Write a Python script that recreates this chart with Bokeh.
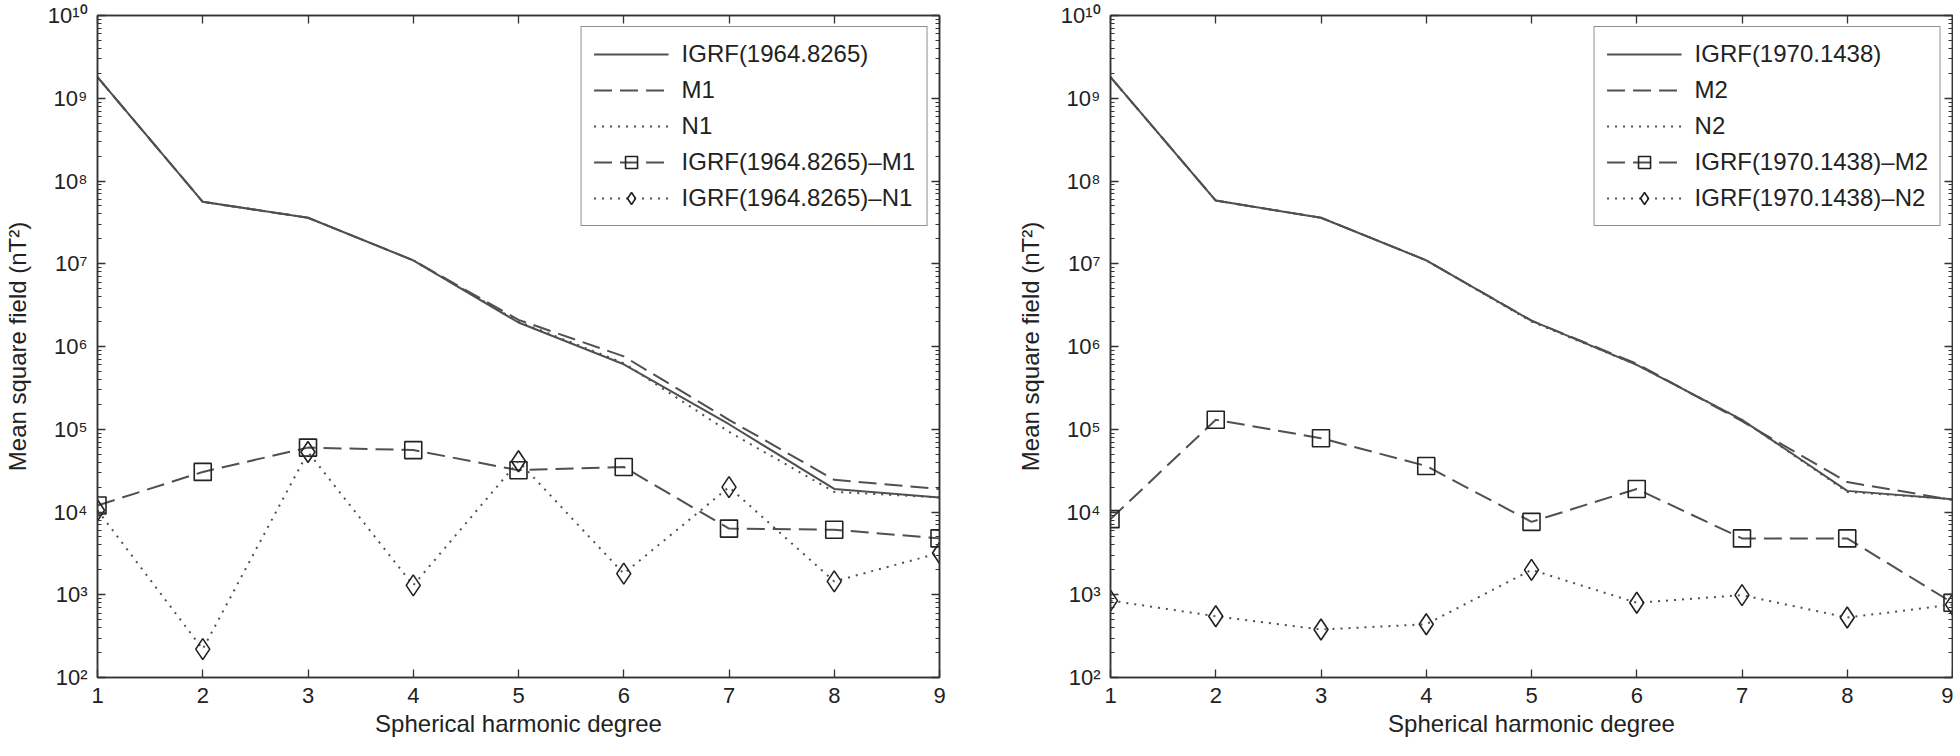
from bokeh.plotting import figure
from bokeh.layouts import row
from bokeh.models import Range1d, FixedTicker, LinearAxis, LogAxis, CustomJSTickFormatter
from bokeh.embed import file_html
from bokeh.resources import INLINE

# ---------------- data ----------------
degrees = [1, 2, 3, 4, 5, 6, 7, 8, 9]

igrf_1964 = [1.8e9, 5.6e7, 3.6e7, 1.1e7, 1.95e6, 6.1e5, 1.15e5, 1.9e4, 1.5e4]
m1 = [1.8e9, 5.6e7, 3.6e7, 1.1e7, 2.1e6, 7.6e5, 1.3e5, 2.45e4, 1.9e4]
n1 = [1.8e9, 5.6e7, 3.6e7, 1.1e7, 2.0e6, 6.3e5, 9.3e4, 1.75e4, 1.5e4]
igrf_m1 = [1.2e4, 3.05e4, 6.0e4, 5.6e4, 3.2e4, 3.5e4, 6.3e3, 6.1e3, 4.8e3]
igrf_n1 = [1.05e4, 220, 5.3e4, 1.3e3, 4.1e4, 1.8e3, 2.0e4, 1.45e3, 3.2e3]

igrf_1970 = [1.8e9, 5.8e7, 3.6e7, 1.1e7, 2.05e6, 6.0e5, 1.3e5, 1.8e4, 1.43e4]
m2 = [1.8e9, 5.8e7, 3.6e7, 1.1e7, 2.05e6, 6.2e5, 1.25e5, 2.3e4, 1.4e4]
n2 = [1.8e9, 5.8e7, 3.6e7, 1.1e7, 2.0e6, 6.0e5, 1.3e5, 1.75e4, 1.43e4]
igrf_m2 = [8.2e3, 1.3e5, 7.8e4, 3.6e4, 7.6e3, 1.9e4, 4.8e3, 4.8e3, 800]
igrf_n2 = [850, 550, 380, 440, 2.0e3, 800, 990, 530, 760]

labels_left = ["IGRF(1964.8265)", "M1", "N1", "IGRF(1964.8265)\u2013M1", "IGRF(1964.8265)\u2013N1"]
labels_right = ["IGRF(1970.1438)", "M2", "N2", "IGRF(1970.1438)\u2013M2", "IGRF(1970.1438)\u2013N2"]

ytick_values = [1e2, 1e3, 1e4, 1e5, 1e6, 1e7, 1e8, 1e9, 1e10]
ytick_labels = ["10\u00b2", "10\u00b3", "10\u2074", "10\u2075", "10\u2076",
                "10\u2077", "10\u2078", "10\u2079", "10\u00b9\u2070"]
yminor = [k * 10.0 ** n for n in range(2, 10) for k in range(2, 10)]

x_label = "Spherical harmonic degree"
y_label = "Mean square field (nT\u00b2)"

FONT = "Liberation Sans"
TXT = "#222222"
LINE = "#505050"
AX = "#333333"


def style_axis(ax, show_labels=True):
    ax.axis_line_color = AX
    ax.axis_line_width = 1.5
    ax.major_tick_line_color = AX
    ax.major_tick_line_width = 1.3
    ax.minor_tick_line_color = AX
    ax.minor_tick_line_width = 1.0
    ax.major_tick_in = 8
    ax.major_tick_out = 0
    ax.minor_tick_in = 4
    ax.minor_tick_out = 0
    if show_labels:
        ax.major_label_text_font = FONT
        ax.major_label_text_font_size = "22px"
        ax.major_label_text_color = TXT
        ax.axis_label_text_font = FONT
        ax.axis_label_text_font_size = "24px"
        ax.axis_label_text_font_style = "normal"
        ax.axis_label_text_color = TXT
    else:
        ax.major_label_text_font_size = "1px"
        ax.major_label_text_alpha = 0
        ax.major_label_standoff = 0


def make_panel(series, labels, border_right):
    igrf, mm, nn, dm, dn = series
    p = figure(
        x_axis_type="linear", y_axis_type="log",
        x_range=Range1d(1, 9), y_range=Range1d(1e2, 1e10),
        frame_width=842, frame_height=662,
        min_border_left=92, min_border_right=border_right,
        min_border_top=15, min_border_bottom=70,
        output_backend="svg", toolbar_location=None,
        background_fill_color="white", border_fill_color="white",
    )
    p.xgrid.grid_line_color = None
    p.ygrid.grid_line_color = None
    p.outline_line_color = AX
    p.outline_line_width = 1.5

    ylog_formatter = CustomJSTickFormatter(
        args=dict(vals=ytick_values, labels=ytick_labels),
        code="""
        const lg = Math.log10(tick);
        for (let i = 0; i < vals.length; i++) {
            if (Math.abs(Math.log10(vals[i]) - lg) < 1e-6) return labels[i];
        }
        return "";
        """,
    )

    xax = p.xaxis[0]
    xax.ticker = FixedTicker(ticks=degrees)
    xax.axis_label = x_label
    style_axis(xax)
    xax.major_label_standoff = 10
    xax.axis_label_standoff = 4

    yax = p.yaxis[0]
    yax.ticker = FixedTicker(ticks=ytick_values, minor_ticks=yminor)
    yax.formatter = ylog_formatter
    yax.axis_label = y_label
    style_axis(yax)
    yax.major_label_standoff = 10
    yax.axis_label_standoff = 14

    top = LinearAxis(ticker=FixedTicker(ticks=degrees))
    style_axis(top, show_labels=False)
    p.add_layout(top, "above")
    right = LogAxis(ticker=FixedTicker(ticks=ytick_values, minor_ticks=yminor))
    style_axis(right, show_labels=False)
    p.add_layout(right, "right")

    p.line(degrees, igrf, line_color=LINE, line_width=2, legend_label=labels[0])
    p.line(degrees, mm, line_color=LINE, line_width=2, line_dash="18 8", legend_label=labels[1])
    p.line(degrees, nn, line_color=LINE, line_width=2, line_dash="2 6", legend_label=labels[2])

    p.line(degrees, dm, line_color=LINE, line_width=2, line_dash="18 8", legend_label=labels[3])
    p.scatter(degrees, dm, marker="square", size=17, fill_color=None,
              line_color="#222222", line_width=1.6, legend_label=labels[3])
    p.line(degrees, dn, line_color=LINE, line_width=2, line_dash="2 6", legend_label=labels[4])
    p.scatter(degrees, dn, marker="diamond", size=21, fill_color=None,
              line_color="#222222", line_width=1.6, legend_label=labels[4])

    lg = p.legend[0]
    lg.location = "top_right"
    lg.margin = 11
    lg.padding = 12
    lg.spacing = 6
    lg.label_height = 30
    lg.glyph_height = 30
    lg.glyph_width = 75
    lg.label_standoff = 13
    lg.label_text_font = FONT
    lg.label_text_font_size = "24px"
    lg.label_text_color = TXT
    lg.border_line_color = "#222222"
    lg.border_line_width = 1.5
    lg.background_fill_color = "white"
    lg.background_fill_alpha = 1.0
    return p


p1 = make_panel([igrf_1964, m1, n1, igrf_m1, igrf_n1], labels_left, 74)
p2 = make_panel([igrf_1970, m2, n2, igrf_m2, igrf_n2], labels_right, 1)

layout = row(p1, p2, spacing=0)
open("out.html", "w").write(file_html(layout, INLINE))
